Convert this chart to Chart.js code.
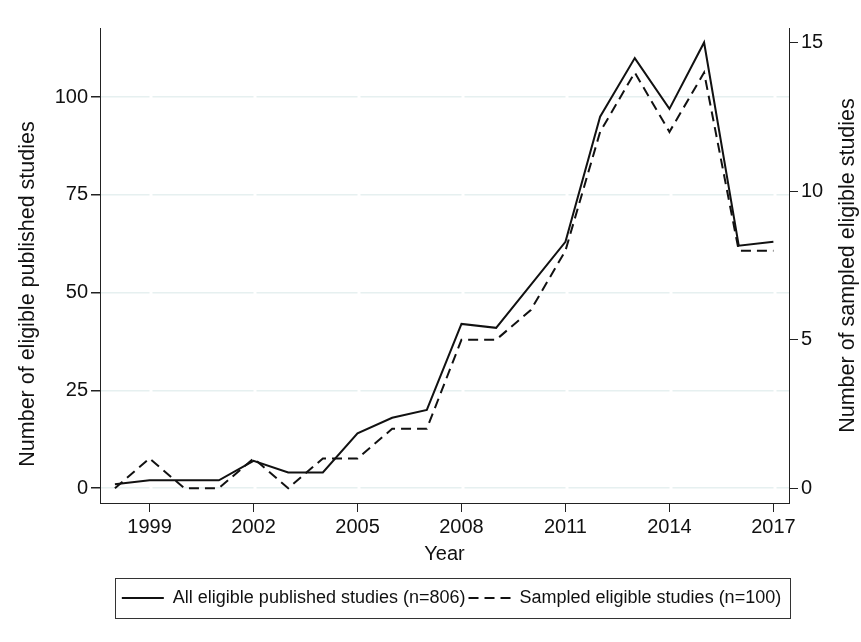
<!DOCTYPE html>
<html>
<head>
<meta charset="utf-8">
<script src="https://cdn.jsdelivr.net/npm/chart.js@4.4.0/dist/chart.umd.min.js"></script>
<style>
    html, body { margin: 0; padding: 0; background: #fff; }
    #wrap { width: 861px; height: 642px; }
</style>
</head>
<body>
<div id="wrap"><canvas id="chart" width="861" height="642"></canvas></div>
<script>
const years = [1998, 1999, 2000, 2001, 2002, 2003, 2004, 2005, 2006, 2007,
               2008, 2009, 2010, 2011, 2012, 2013, 2014, 2015, 2016, 2017];
const allStudies = [1, 2, 2, 2, 7, 4, 4, 14, 18, 20, 42, 41, 52, 63, 95, 110, 97, 114, 62, 63];
const sampledStudies = [0, 1, 0, 0, 1, 0, 1, 1, 2, 2, 5, 5, 6, 8, 12, 14, 12, 14, 8, 8];

const yearTicks = [1999, 2002, 2005, 2008, 2011, 2014, 2017];
const leftTicks = [0, 25, 50, 75, 100];
const rightTicks = [0, 5, 10, 15];

const leftTitle = 'Number of eligible published studies';
const rightTitle = 'Number of sampled eligible studies';
const xTitle = 'Year';

const FONT = '"Liberation Sans", Arial, sans-serif';

const toPoints = vals => years.map((yr, i) => ({x: yr, y: vals[i]}));

// y-axis titles (both read bottom to top) and the frame round the legend
const extras = {
    id: 'extras',
    afterUpdate(chart) {
        // legend sits a little right of centre in the original
        const lg = chart.legend;
        lg.left += 7;
        lg.right += 7;
        (lg.legendHitBoxes || []).forEach(b => { b.left += 7; });
    },
    afterDraw(chart) {
        const ctx = chart.ctx;
        const area = chart.chartArea;
        ctx.save();
        ctx.fillStyle = '#111';
        ctx.font = '21.5px ' + FONT;
        ctx.textAlign = 'center';
        ctx.textBaseline = 'middle';

        ctx.save();
        ctx.translate(28, area.top + (area.bottom - area.top) * 0.56);
        ctx.rotate(-Math.PI / 2);
        ctx.fillText(leftTitle, 0, 0);
        ctx.restore();

        ctx.save();
        ctx.translate(chart.width - 13, (area.top + area.bottom) / 2);
        ctx.rotate(-Math.PI / 2);
        ctx.fillText(rightTitle, 0, 0);
        ctx.restore();

        const boxes = chart.legend.legendHitBoxes;
        if (boxes && boxes.length) {
            const x0 = Math.min(...boxes.map(b => b.left)) - 7;
            const x1 = Math.max(...boxes.map(b => b.left + b.width)) + 9;
            const y0 = Math.min(...boxes.map(b => b.top)) - 11;
            const y1 = Math.max(...boxes.map(b => b.top + b.height)) + 11;
            ctx.strokeStyle = '#333';
            ctx.lineWidth = 1;
            ctx.strokeRect(Math.round(x0) + 0.5, Math.round(y0) + 0.5, Math.round(x1 - x0), Math.round(y1 - y0));
        }
        ctx.restore();
    }
};

new Chart(document.getElementById('chart'), {
    type: 'line',
    data: {
        datasets: [
            {
                label: 'All eligible published studies (n=806)',
                data: toPoints(allStudies),
                yAxisID: 'y',
                borderColor: '#111',
                backgroundColor: '#111',
                borderWidth: 2,
                pointRadius: 0,
                tension: 0,
                pointStyle: 'line'
            },
            {
                label: 'Sampled eligible studies (n=100)',
                data: toPoints(sampledStudies),
                yAxisID: 'y1',
                borderColor: '#111',
                backgroundColor: '#111',
                borderWidth: 2,
                borderDash: [10, 6],
                pointRadius: 0,
                tension: 0,
                pointStyle: 'line'
            }
        ]
    },
    options: {
        responsive: false,
        animation: false,
        layout: { padding: { top: 28, bottom: 25, left: 0, right: 0 } },
        plugins: {
            tooltip: { enabled: false },
            legend: {
                position: 'bottom',
                fullSize: false,
                labels: {
                    usePointStyle: true,
                    pointStyleWidth: 42,
                    padding: 3,
                    color: '#111',
                    font: { family: FONT, size: 18 },
                    generateLabels(chart) {
                        const items = Chart.defaults.plugins.legend.labels.generateLabels(chart);
                        items.forEach(it => {
                            it.lineDash = chart.data.datasets[it.datasetIndex].borderDash || [];
                            it.lineWidth = 2;
                            it.strokeStyle = '#111';
                        });
                        return items;
                    }
                }
            }
        },
        scales: {
            x: {
                type: 'linear',
                min: 1997.57,
                max: 2017.45,
                afterBuildTicks: s => { s.ticks = yearTicks.map(v => ({value: v})); },
                afterFit: s => { s.height = 83; },
                ticks: {
                    color: '#111',
                    font: { family: FONT, size: 20 },
                    padding: 3,
                    maxRotation: 0,
                    callback: v => String(v)
                },
                grid: { drawOnChartArea: false, tickLength: 9, tickColor: '#222' },
                border: { color: '#222', width: 1 },
                title: {
                    display: true,
                    text: xTitle,
                    color: '#111',
                    font: { family: FONT, size: 20 },
                    padding: { top: 0, bottom: 20 }
                }
            },
            y: {
                position: 'left',
                min: -3.8,
                max: 117.7,
                afterBuildTicks: s => { s.ticks = leftTicks.map(v => ({value: v})); },
                afterFit: s => { s.width = 100; },
                ticks: {
                    color: '#111',
                    font: { family: FONT, size: 20 },
                    padding: 3
                },
                grid: { color: '#e6f0f0', lineWidth: 1.5, tickLength: 9, tickColor: '#222' },
                border: { color: '#222', width: 1, dash: [101, 3], dashOffset: 52.5 }
            },
            y1: {
                position: 'right',
                min: -0.5,
                max: 15.5,
                afterBuildTicks: s => { s.ticks = rightTicks.map(v => ({value: v})); },
                afterFit: s => { s.width = 72; },
                ticks: {
                    color: '#111',
                    font: { family: FONT, size: 20 },
                    padding: 3
                },
                grid: { drawOnChartArea: false, tickLength: 9, tickColor: '#222' },
                border: { color: '#222', width: 1 }
            }
        }
    },
    plugins: [extras]
});
</script>
</body>
</html>
